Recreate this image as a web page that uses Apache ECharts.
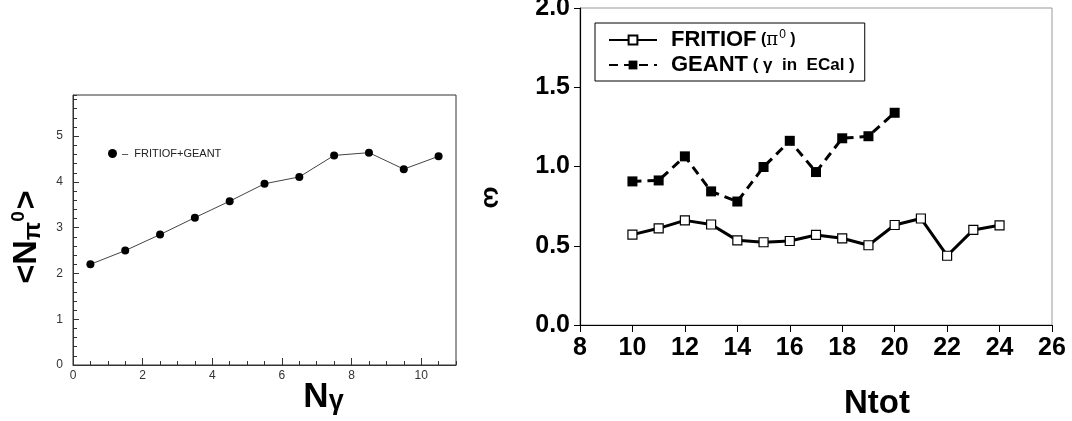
<!DOCTYPE html>
<html>
<head>
<meta charset="utf-8">
<script src="https://cdn.jsdelivr.net/npm/echarts@6/dist/echarts.min.js"></script>
<style>
html,body{margin:0;padding:0;background:#fff;}
#c{width:1072px;height:421px;}
</style>
</head>
<body>
<div id="c"></div>
<script>
// ---- Left panel data ----
const nGamma = [0.5, 1.5, 2.5, 3.5, 4.5, 5.5, 6.5, 7.5, 8.5, 9.5, 10.5];
const nPi0   = [2.20, 2.50, 2.85, 3.22, 3.58, 3.96, 4.11, 4.58, 4.64, 4.28, 4.56];
// ---- Right panel data ----
const ntotF   = [10, 11, 12, 13, 14, 15, 16, 17, 18, 19, 20, 21, 22, 23, 24];
const fritiof = [0.57, 0.61, 0.66, 0.634, 0.534, 0.522, 0.53, 0.568, 0.547, 0.503, 0.631, 0.672, 0.437, 0.60, 0.629];
const ntotG   = [10, 11, 12, 13, 14, 15, 16, 17, 18, 19, 20];
const geant   = [0.906, 0.912, 1.064, 0.843, 0.779, 0.997, 1.162, 0.965, 1.178, 1.191, 1.339];
const leftXTicks = [0, 2, 4, 6, 8, 10];
const rightYTicks = ['0.0', '0.5', '1.0', '1.5', '2.0'];

const FONT = '"Liberation Sans", Arial, sans-serif';
const zip = (xs, ys) => xs.map((x, i) => [x, ys[i]]);

const chart = echarts.init(document.getElementById('c'), null, {renderer: 'canvas'});

const option = {
  backgroundColor: '#fff',
  animation: false,
  textStyle: {fontFamily: FONT},
  grid: [
    {left: 73, top: 95, width: 383, height: 270, show: true, borderColor: '#333', borderWidth: 1, backgroundColor: 'transparent', containLabel: false, outerBoundsMode: 'none'},
    {left: 580, top: 8, width: 472, height: 317, show: true, borderColor: '#999', borderWidth: 1, backgroundColor: 'transparent', containLabel: false, outerBoundsMode: 'none'}
  ],
  xAxis: [
    { // left major
      gridIndex: 0, type: 'value', position: 'bottom', min: 0, max: 11, interval: 2,
      name: '{n|N}{g|γ}', nameLocation: 'middle', nameGap: 15, nameMoveOverlap: false,
      nameTextStyle: {padding: [0, 0, 0, 118], rich: {
        n: {fontFamily: FONT, fontWeight: 'bold', fontSize: 35, color: '#000'},
        g: {fontFamily: FONT, fontWeight: 'bold', fontSize: 27, color: '#000', padding: [8, 0, 0, 0]}
      }},
      axisLine: {show: true, onZero: false, lineStyle: {color: '#333', width: 1}},
      axisTick: {show: true, inside: true, length: 7, lineStyle: {color: '#333'}},
      axisLabel: {show: true, margin: 5, fontSize: 12, color: '#333', fontFamily: FONT,
        formatter: v => leftXTicks.indexOf(v) >= 0 ? String(v) : '', showMaxLabel: false},
      splitLine: {show: false}
    },
    { // left minor ticks
      gridIndex: 0, type: 'value', position: 'bottom', min: 0, max: 11, interval: 0.5,
      axisLine: {show: false}, axisLabel: {show: false}, splitLine: {show: false},
      axisTick: {show: true, inside: true, length: 4, lineStyle: {color: '#333'}}
    },
    { // right
      gridIndex: 1, type: 'value', position: 'bottom', min: 8, max: 26, interval: 2,
      name: 'Ntot', nameLocation: 'middle', nameGap: 62,
      nameTextStyle: {fontFamily: FONT, fontWeight: 'bold', fontSize: 33, color: '#000', padding: [0, 0, 0, 122]},
      axisLine: {show: true, onZero: false, lineStyle: {color: '#000', width: 1.2}},
      axisTick: {show: true, inside: false, length: 7, lineStyle: {color: '#000', width: 1}},
      axisLabel: {show: true, margin: 11, fontSize: 25, fontWeight: 'bold', color: '#000', fontFamily: FONT},
      splitLine: {show: false}
    }
  ],
  yAxis: [
    { // left major
      gridIndex: 0, type: 'value', position: 'left', min: 0, max: 5.9, interval: 1,
      name: '{t|<}{n|N}{p|π}{s|0}{t|>}', nameLocation: 'middle', nameGap: 28, nameRotate: 90,
      nameTextStyle: {padding: [0, 14, 0, 0], rich: {
        t: {fontFamily: FONT, fontWeight: 'bold', fontSize: 32, color: '#000'},
        n: {fontFamily: FONT, fontWeight: 'bold', fontSize: 34, color: '#000'},
        p: {fontFamily: FONT, fontWeight: 'bold', fontSize: 24, color: '#000', padding: [12, 0, 0, 0]},
        s: {fontFamily: FONT, fontWeight: 'bold', fontSize: 19, color: '#000', padding: [0, 2, 16, 0]}
      }},
      axisLine: {show: true, onZero: false, lineStyle: {color: '#333', width: 1}},
      axisTick: {show: true, inside: true, length: 6, lineStyle: {color: '#333'}},
      axisLabel: {show: true, margin: 10, fontSize: 12, color: '#333', fontFamily: FONT, showMaxLabel: false,
        formatter: v => (Math.abs(v - Math.round(v)) < 1e-6 ? String(Math.round(v)) : '')},
      splitLine: {show: false}
    },
    { // left minor ticks
      gridIndex: 0, type: 'value', position: 'left', min: 0, max: 5.9, interval: 0.2,
      axisLine: {show: false}, axisLabel: {show: false}, splitLine: {show: false},
      axisTick: {show: true, inside: true, length: 4, lineStyle: {color: '#333'}}
    },
    { // right
      gridIndex: 1, type: 'value', position: 'left', min: 0, max: 2, interval: 0.5,
      name: 'ω', nameLocation: 'middle', nameGap: 76, nameRotate: -90,
      nameTextStyle: {fontFamily: FONT, fontWeight: 'bold', fontSize: 26, color: '#000', padding: [0, 0, 0, 62]},
      axisLine: {show: true, onZero: false, lineStyle: {color: '#000', width: 1.2}},
      axisTick: {show: true, inside: false, length: 6, lineStyle: {color: '#000', width: 1}},
      axisLabel: {show: true, margin: 10, fontSize: 25, fontWeight: 'bold', color: '#000', fontFamily: FONT,
        formatter: v => rightYTicks[Math.round(v / 0.5)]},
      splitLine: {show: false}
    }
  ],
  legend: [
    {
      data: ['FRITIOF+GEANT'], left: 103, top: 143, orient: 'vertical',
      icon: 'circle', itemWidth: 9, itemHeight: 9, selectedMode: false,
      formatter: () => '–  FRITIOF+GEANT',
      textStyle: {fontFamily: FONT, fontSize: 11, color: '#222'}
    },
    {
      data: ['FRITIOF (π0)', 'GEANT (γ in ECal)'], left: 595, top: 23, orient: 'vertical',
      itemWidth: 48, itemHeight: 11, itemGap: 3, selectedMode: false,
      padding: [6, 10, 5, 13], borderColor: '#000', borderWidth: 1, backgroundColor: '#fff',
      formatter: name => name.indexOf('FRITIOF') === 0
        ? '{a|FRITIOF}{b| (}{p|π}{s|0}{b| )}'
        : '{a|GEANT}{c| ( γ  in  ECal )}',
      textStyle: {rich: {
        a: {fontFamily: FONT, fontWeight: 'bold', fontSize: 22, color: '#000', padding: [0, 0, 0, 9], lineHeight: 26},
        b: {fontFamily: FONT, fontWeight: 'bold', fontSize: 16, color: '#000', lineHeight: 26},
        c: {fontFamily: FONT, fontWeight: 'bold', fontSize: 17, color: '#000', lineHeight: 26},
        p: {fontFamily: '"DejaVu Serif", serif', fontSize: 18, color: '#000', lineHeight: 26},
        s: {fontFamily: FONT, fontSize: 12, color: '#000', padding: [0, 0, 10, 1]}
      }}
    }
  ],
  series: [
    {
      name: 'FRITIOF+GEANT', type: 'line', xAxisIndex: 0, yAxisIndex: 0,
      data: zip(nGamma, nPi0), symbol: 'circle', symbolSize: 8,
      lineStyle: {color: '#444', width: 1}, itemStyle: {color: '#000'}
    },
    {
      name: 'FRITIOF (π0)', type: 'line', xAxisIndex: 2, yAxisIndex: 2,
      data: zip(ntotF, fritiof), symbol: 'rect', symbolSize: 9,
      lineStyle: {color: '#000', width: 3},
      itemStyle: {color: '#fff', borderColor: '#000', borderWidth: 1.2}
    },
    {
      name: 'GEANT (γ in ECal)', type: 'line', xAxisIndex: 2, yAxisIndex: 2,
      data: zip(ntotG, geant), symbol: 'rect', symbolSize: 10,
      lineStyle: {color: '#000', width: 3, type: [9, 6]},
      itemStyle: {color: '#000', borderColor: '#000', borderWidth: 0}
    }
  ]
};
chart.setOption(option);
</script>
</body>
</html>
